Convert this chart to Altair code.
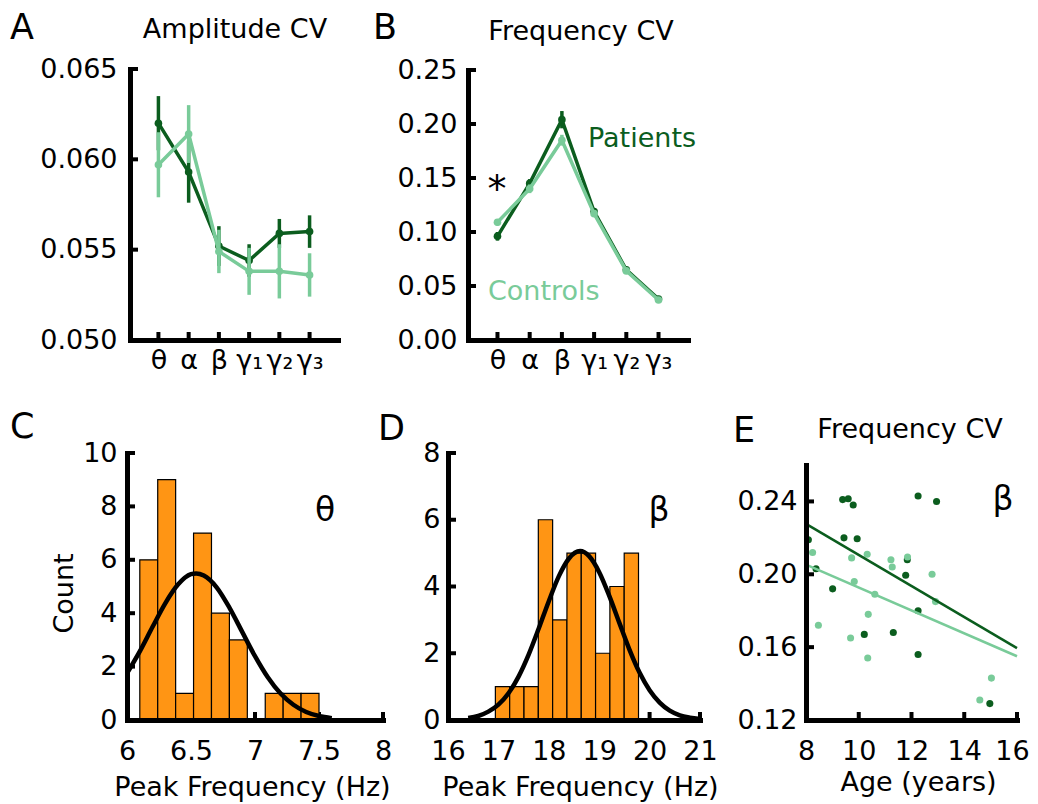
import altair as alt
import pandas as pd

W, H = 1022, 788
FONT = "DejaVu Sans"
DARK = "#0b5d1e"
LIGHT = "#79cb99"
ORANGE = "#ff9514"

# ---------------- data ----------------
bands = ["θ", "α", "β", "γ₁", "γ₂", "γ₃"]
band_idx = [0, 1, 2, 3, 4, 5]

amp_pat_mean = [0.0620, 0.0593, 0.0552, 0.0544, 0.0559, 0.0560]
amp_pat_se = [0.0015, 0.0017, 0.0011, 0.0009, 0.0008, 0.0009]
amp_con_mean = [0.0597, 0.0614, 0.0549, 0.0538, 0.0538, 0.0536]
amp_con_se = [0.0018, 0.0016, 0.0012, 0.0013, 0.0015, 0.0012]

frq_pat_mean = [0.096, 0.145, 0.204, 0.119, 0.065, 0.038]
frq_pat_se = [0.004, 0.004, 0.008, 0.003, 0.002, 0.002]
frq_con_mean = [0.109, 0.140, 0.185, 0.117, 0.064, 0.037]
frq_con_se = [0.003, 0.004, 0.005, 0.003, 0.002, 0.002]

theta_bin_start = [6.10, 6.24, 6.38, 6.52, 6.66, 6.80, 6.94, 7.08, 7.22, 7.36]
theta_bin_end = [6.24, 6.38, 6.52, 6.66, 6.80, 6.94, 7.08, 7.22, 7.36, 7.50]
theta_counts = [6, 9, 1, 7, 4, 3, 0, 1, 1, 1]
theta_fit_x = [6.0, 6.1, 6.2, 6.3, 6.4, 6.5, 6.54, 6.6, 6.7, 6.8, 6.9, 7.0, 7.1, 7.2, 7.3, 7.4, 7.5, 7.6]
theta_fit_y = [1.75, 2.57, 3.49, 4.38, 5.08, 5.46, 5.49, 5.41, 4.97, 4.21, 3.30, 2.39, 1.60, 0.99, 0.57, 0.30, 0.15, 0.07]

beta_bin_start = [16.94, 17.224, 17.508, 17.792, 18.076, 18.36, 18.644, 18.928, 19.212, 19.496]
beta_bin_end = [17.224, 17.508, 17.792, 18.076, 18.36, 18.644, 18.928, 19.212, 19.496, 19.78]
beta_counts = [1, 1, 1, 6, 3, 5, 5, 2, 4, 5]
beta_fit_x = [16.4, 16.6, 16.8, 17.0, 17.2, 17.4, 17.6, 17.8, 18.0, 18.2, 18.4, 18.62,
              18.8, 19.0, 19.2, 19.4, 19.6, 19.8, 20.0, 20.2, 20.4, 20.6, 20.8, 21.0]
beta_fit_y = [0.06, 0.12, 0.25, 0.46, 0.80, 1.30, 1.96, 2.74, 3.56, 4.31, 4.84, 5.06,
              4.91, 4.43, 3.72, 2.91, 2.11, 1.42, 0.89, 0.52, 0.28, 0.14, 0.07, 0.03]

pat_age = [8.09, 8.38, 9.01, 9.39, 9.60, 9.79, 9.44, 9.94, 10.21, 11.31, 11.84, 11.78, 12.25, 12.25, 12.25, 12.95, 14.97]
pat_cv = [0.219, 0.203, 0.192, 0.241, 0.2415, 0.238, 0.220, 0.2195, 0.167, 0.168, 0.208, 0.1995, 0.180, 0.243, 0.156, 0.240, 0.129]
con_age = [8.25, 8.47, 9.73, 9.83, 9.69, 10.32, 10.61, 10.36, 10.34, 11.22, 11.27, 11.85, 12.78, 12.91, 14.59, 15.03]
con_cv = [0.212, 0.172, 0.209, 0.196, 0.165, 0.211, 0.189, 0.178, 0.154, 0.208, 0.204, 0.2095, 0.200, 0.185, 0.131, 0.143]
fit_age = [8, 16]
pat_fit_cv = [0.2277, 0.1595]
con_fit_cv = [0.2053, 0.1550]

# tick values
ticksA = [0.050, 0.055, 0.060, 0.065]
ticksB = [0.00, 0.05, 0.10, 0.15, 0.20, 0.25]
ticksC_x = [6, 6.5, 7, 7.5, 8]
ticksC_y = [0, 2, 4, 6, 8, 10]
ticksD_x = [16, 17, 18, 19, 20, 21]
ticksD_y = [0, 2, 4, 6, 8]
ticksE_x = [8, 10, 12, 14, 16]
ticksE_y = [0.12, 0.16, 0.20, 0.24]

BAND_EXPR = "[" + ",".join("'" + b + "'" for b in bands) + "][datum.value]"


def band_frame(means, ses):
    return pd.DataFrame({
        "band": bands, "idx": band_idx, "mean": means,
        "lo": [m - s for m, s in zip(means, ses)],
        "hi": [m + s for m, s in zip(means, ses)],
    })


def main_axis(orient, offset, values, pad, fmt=None, **extra):
    kw = dict(orient=orient, offset=offset, values=values, ticks=False, tickSize=0,
              grid=False, domainColor="black", domainWidth=5, domainCap="square",
              labelFont=FONT, labelFontSize=27, labelColor="black", labelPadding=pad,
              labelFlush=False, labelOverlap=False, labelAngle=0, zindex=1)
    if fmt is not None:
        kw["format"] = fmt
    kw.update(extra)
    return alt.Axis(**kw)


def tick_marks(xvals, ymin, yvals, xmin, xs, ys, xaxis, yaxis):
    dx = pd.DataFrame({"tx": xvals, "ty": [ymin] * len(xvals)})
    dy = pd.DataFrame({"tx": [xmin] * len(yvals), "ty": yvals})
    enc = dict(x=alt.X("tx:Q", scale=xs, axis=xaxis), y=alt.Y("ty:Q", scale=ys, axis=yaxis))
    t1 = alt.Chart(dx).mark_tick(orient="vertical", size=9, thickness=4, color="black",
                                 yOffset=-3.5, opacity=1).encode(**enc)
    t2 = alt.Chart(dy).mark_tick(orient="horizontal", size=9, thickness=4, color="black",
                                 xOffset=3.5, opacity=1).encode(**enc)
    return [t1, t2]


def band_panel(dfs_colors, xs, ys, xaxis, yaxis, ticks):
    layers = list(ticks)
    for df, color in dfs_colors:
        base = alt.Chart(df)
        x = alt.X("idx:Q", scale=xs, axis=xaxis)
        layers.append(base.mark_rule(color=color, strokeWidth=3.5).encode(
            x=x, y=alt.Y("lo:Q", scale=ys, axis=yaxis), y2="hi:Q"))
        layers.append(base.mark_line(color=color, strokeWidth=3.5).encode(
            x=x, y=alt.Y("mean:Q", scale=ys, axis=yaxis), order="idx:Q"))
        layers.append(base.mark_circle(color=color, size=58, opacity=1).encode(
            x=x, y=alt.Y("mean:Q", scale=ys, axis=yaxis)))
    return alt.layer(*layers)


def text(t, x, y, size, color="black", align="left"):
    return alt.Chart(pd.DataFrame({"t": [t]})).mark_text(
        font=FONT, fontSize=size, color=color, align=align, baseline="alphabetic"
    ).encode(text="t:N", x=alt.value(x), y=alt.value(y))


# ---------------- panel A ----------------
dfA_p = band_frame(amp_pat_mean, amp_pat_se)
dfA_c = band_frame(amp_con_mean, amp_con_se)
xA = alt.Scale(domain=[-0.94, 5.94], range=[122, 330], zero=False, nice=False)
yA = alt.Scale(domain=[0.050, 0.065], range=[332, 61], zero=False, nice=False)
xA_axis = main_axis("bottom", 332 - H, band_idx, 7, title=None, labelExpr=BAND_EXPR)
yA_axis = main_axis("left", -122, ticksA, 13, ".3f", title=None)
panelA = band_panel([(dfA_p, DARK), (dfA_c, LIGHT)], xA, yA, xA_axis, yA_axis,
                    tick_marks(band_idx, 0.050, ticksA, -0.94, xA, yA, xA_axis, yA_axis))

# ---------------- panel B ----------------
dfB_p = band_frame(frq_pat_mean, frq_pat_se)
dfB_c = band_frame(frq_con_mean, frq_con_se)
xB = alt.Scale(domain=[-0.915, 5.915], range=[460, 680], zero=False, nice=False)
yB = alt.Scale(domain=[0.0, 0.25], range=[332, 62], zero=False, nice=False)
xB_axis = main_axis("bottom", 332 - H, band_idx, 7, title=None, labelExpr=BAND_EXPR)
yB_axis = main_axis("left", -460, ticksB, 11, ".2f", title=None)
panelB = band_panel([(dfB_p, DARK), (dfB_c, LIGHT)], xB, yB, xB_axis, yB_axis,
                    tick_marks(band_idx, 0.0, ticksB, -0.915, xB, yB, xB_axis, yB_axis))

# ---------------- panel C ----------------
dfC = pd.DataFrame({"start": theta_bin_start, "end": theta_bin_end, "count": theta_counts,
                    "zero": [0] * len(theta_counts)})
dfC_fit = pd.DataFrame({"f": theta_fit_x, "n": theta_fit_y})
xC = alt.Scale(domain=[6, 8], range=[119, 375], zero=False, nice=False)
yC = alt.Scale(domain=[0, 10], range=[712, 445], zero=False, nice=False)
xC_axis = main_axis("bottom", 712 - H, ticksC_x, 18, "~g", title="Peak Frequency (Hz)",
                    titleX=244, titleY=75, titleAngle=0, titleAlign="center",
                    titleBaseline="alphabetic", titleFont=FONT, titleFontSize=27,
                    titleFontWeight="normal", titleColor="black")
yC_axis = main_axis("left", -119, ticksC_y, 10, "d", title="Count",
                    titleX=-55, titleY=585, titleAngle=270, titleAlign="center",
                    titleBaseline="alphabetic", titleFont=FONT, titleFontSize=27,
                    titleFontWeight="normal", titleColor="black")
panelC = alt.layer(
    *tick_marks(ticksC_x, 0, ticksC_y, 6, xC, yC, xC_axis, yC_axis),
    alt.Chart(dfC).mark_rect(fill=ORANGE, stroke="black", strokeWidth=1.2).encode(
        x=alt.X("start:Q", scale=xC, axis=xC_axis), x2="end:Q",
        y=alt.Y("count:Q", scale=yC, axis=yC_axis), y2="zero:Q"),
    alt.Chart(dfC_fit).mark_line(color="black", strokeWidth=4.5, interpolate="monotone").encode(
        x=alt.X("f:Q", scale=xC, axis=xC_axis), y=alt.Y("n:Q", scale=yC, axis=yC_axis)),
)

# ---------------- panel D ----------------
dfD = pd.DataFrame({"start": beta_bin_start, "end": beta_bin_end, "count": beta_counts,
                    "zero": [0] * len(beta_counts)})
dfD_fit = pd.DataFrame({"f": beta_fit_x, "n": beta_fit_y})
xD = alt.Scale(domain=[16, 21], range=[440, 692], zero=False, nice=False)
yD = alt.Scale(domain=[0, 8], range=[712, 445], zero=False, nice=False)
xD_axis = main_axis("bottom", 712 - H, ticksD_x, 18, "d", title="Peak Frequency (Hz)",
                    titleX=572, titleY=75, titleAngle=0, titleAlign="center",
                    titleBaseline="alphabetic", titleFont=FONT, titleFontSize=27,
                    titleFontWeight="normal", titleColor="black")
yD_axis = main_axis("left", -440, ticksD_y, 8, "d", title=None)
panelD = alt.layer(
    *tick_marks(ticksD_x, 0, ticksD_y, 16, xD, yD, xD_axis, yD_axis),
    alt.Chart(dfD).mark_rect(fill=ORANGE, stroke="black", strokeWidth=1.2).encode(
        x=alt.X("start:Q", scale=xD, axis=xD_axis), x2="end:Q",
        y=alt.Y("count:Q", scale=yD, axis=yD_axis), y2="zero:Q"),
    alt.Chart(dfD_fit).mark_line(color="black", strokeWidth=4.5, interpolate="monotone").encode(
        x=alt.X("f:Q", scale=xD, axis=xD_axis), y=alt.Y("n:Q", scale=yD, axis=yD_axis)),
)

# ---------------- panel E ----------------
dfE_p = pd.DataFrame({"age": pat_age, "cv": pat_cv})
dfE_c = pd.DataFrame({"age": con_age, "cv": con_cv})
dfE_pf = pd.DataFrame({"age": fit_age, "cv": pat_fit_cv})
dfE_cf = pd.DataFrame({"age": fit_age, "cv": con_fit_cv})
xE = alt.Scale(domain=[8, 16], range=[798, 1009], zero=False, nice=False)
yE = alt.Scale(domain=[0.12, 0.26], range=[712, 457], zero=False, nice=False)
xE_axis = main_axis("bottom", 712 - H, ticksE_x, 18, "d", title="Age (years)",
                    titleX=910, titleY=70, titleAngle=0, titleAlign="center",
                    titleBaseline="alphabetic", titleFont=FONT, titleFontSize=27,
                    titleFontWeight="normal", titleColor="black",
                    labelOffset={"condition": {"test": "datum.value == 16", "value": -5},
                                 "value": 0})
yE_axis = main_axis("left", -798, ticksE_y, 9, ".2f", title=None)


def e_enc(ch):
    return ch.encode(x=alt.X("age:Q", scale=xE, axis=xE_axis),
                     y=alt.Y("cv:Q", scale=yE, axis=yE_axis))


panelE = alt.layer(
    *tick_marks(ticksE_x, 0.12, ticksE_y, 8, xE, yE, xE_axis, yE_axis),
    e_enc(alt.Chart(dfE_p).mark_circle(color=DARK, size=50, opacity=1)),
    e_enc(alt.Chart(dfE_c).mark_circle(color=LIGHT, size=50, opacity=1)),
    e_enc(alt.Chart(dfE_pf).mark_line(color=DARK, strokeWidth=2.5)),
    e_enc(alt.Chart(dfE_cf).mark_line(color=LIGHT, strokeWidth=2.5)),
)

# ---------------- annotations ----------------
texts = [
    text("A", 2, 31, 35),
    text("Amplitude CV", 227, 30, 27, align="center"),
    text("B", 365, 31, 35),
    text("Frequency CV", 573, 32, 27, align="center"),
    text("Patients", 580, 139, 27, color=DARK),
    text("Controls", 480, 292, 27, color=LIGHT),
    text("*", 489, 194, 38, align="center"),
    text("C", 2, 430, 35),
    text("θ", 317, 513, 33, align="center"),
    text("D", 370, 432, 35),
    text("β", 651, 513, 33, align="center"),
    text("E", 725, 434, 35),
    text("Frequency CV", 902, 430, 27, align="center"),
    text("β", 995, 502, 33, align="center"),
]

chart = alt.layer(
    panelA, panelB, panelC, panelD, panelE, *texts
).resolve_scale(x="independent", y="independent").properties(
    width=W, height=H,
    autosize=alt.AutoSizeParams(type="none"),
    padding={"left": 0, "top": 0, "right": 0, "bottom": 8},
).configure_view(stroke=None)

chart.save("out.html", embed_options={"renderer": "svg", "actions": False})
